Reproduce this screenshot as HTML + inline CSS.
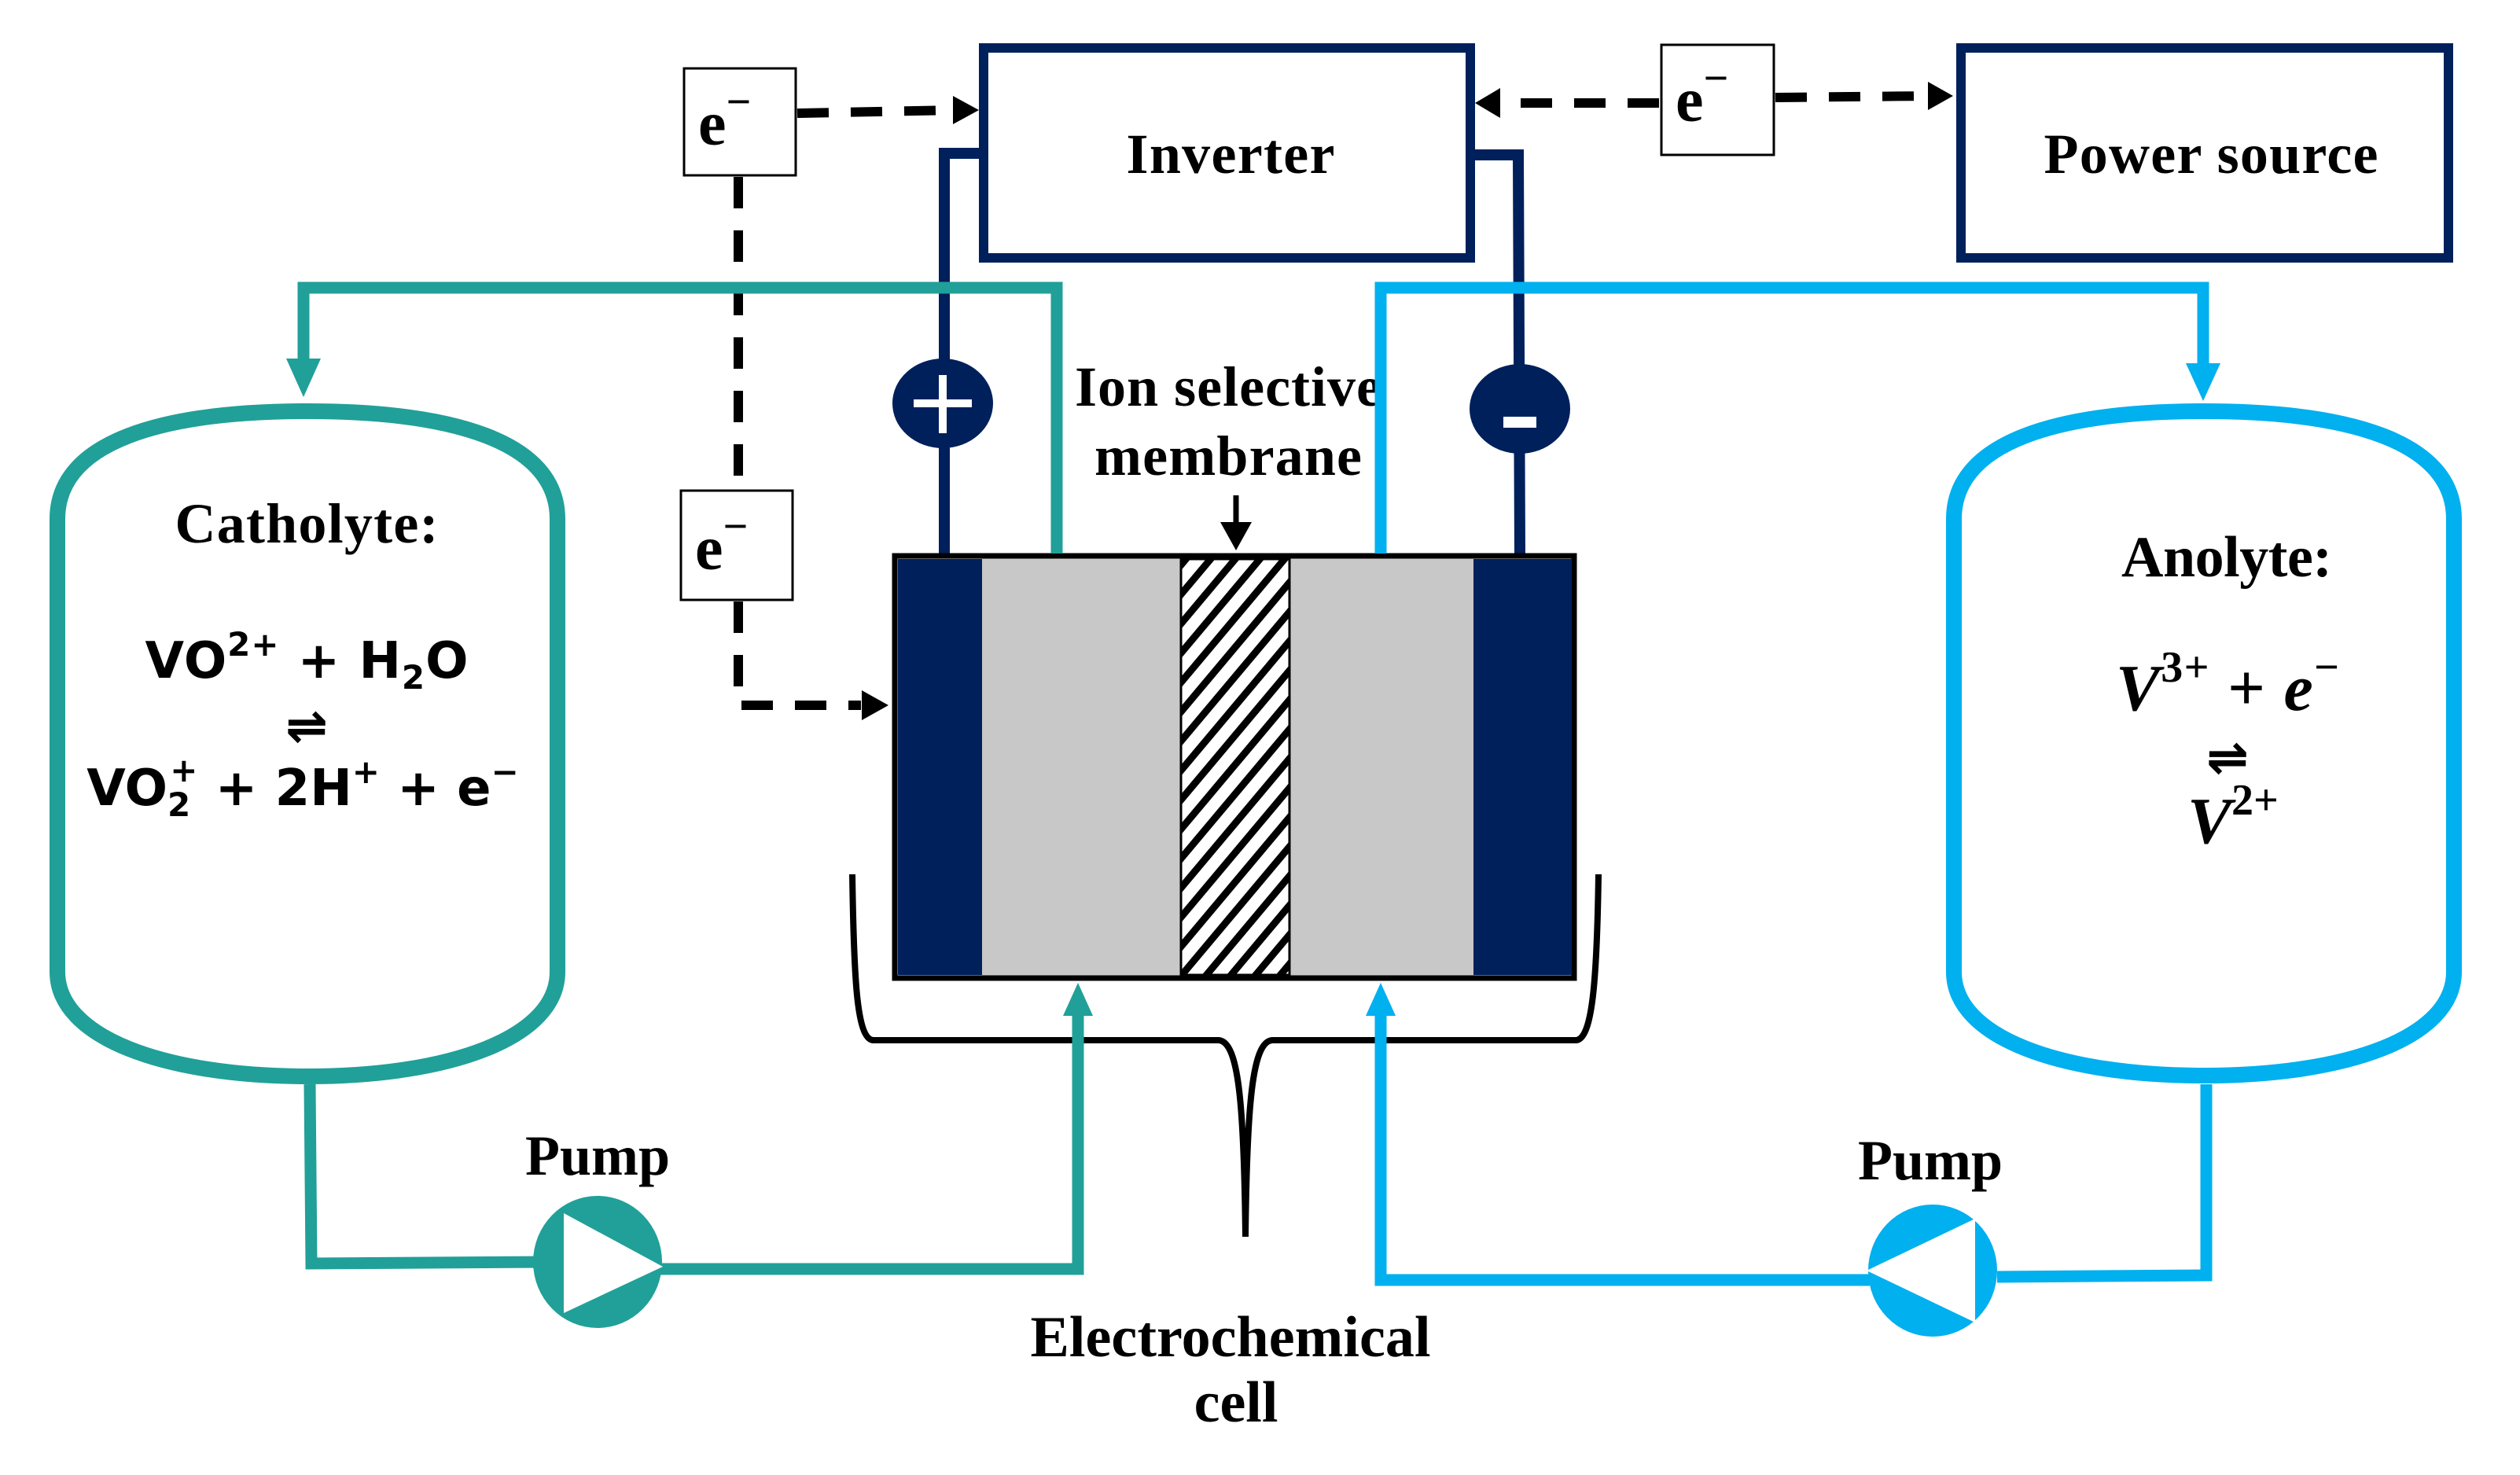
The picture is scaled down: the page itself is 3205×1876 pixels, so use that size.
<!DOCTYPE html>
<html><head><meta charset="utf-8"><style>
html,body{margin:0;padding:0;background:#fff}
svg{display:block}
.t{font-family:"Liberation Serif",serif;font-weight:bold;fill:#000}
.m{font-family:"DejaVu Sans","Liberation Sans",sans-serif;font-weight:bold;fill:#000}
.mi{font-family:"Liberation Serif",serif;font-weight:bold;font-style:italic;fill:#000}
</style></head><body>
<svg width="3205" height="1876" viewBox="0 0 3205 1876" xmlns="http://www.w3.org/2000/svg">
<defs>
<pattern id="h" patternUnits="userSpaceOnUse" width="24" height="24" patternTransform="rotate(40)">
<rect width="24" height="24" fill="#fff"/><rect width="9" height="24" fill="#000"/>
</pattern>
</defs>

<rect x="1251" y="61" width="619" height="267" fill="#fff" stroke="#00205b" stroke-width="12"/>
<text class="t" x="1565" y="220" font-size="72" text-anchor="middle" textLength="265">Inverter</text>
<rect x="2494" y="61" width="620" height="267" fill="#fff" stroke="#00205b" stroke-width="12"/>
<text class="t" x="2812" y="220" font-size="72" text-anchor="middle" textLength="425">Power source</text>

<rect x="870" y="87" width="142" height="136" fill="#fff" stroke="#000" stroke-width="3"/>
<text class="t" x="888" y="184" font-size="80">e<tspan font-size="56" dy="-36">−</tspan></text>
<rect x="866" y="624" width="142" height="139" fill="#fff" stroke="#000" stroke-width="3"/>
<text class="t" x="884" y="724" font-size="80">e<tspan font-size="56" dy="-36">−</tspan></text>
<rect x="2113" y="57" width="143" height="140" fill="#fff" stroke="#000" stroke-width="3"/>
<text class="t" x="2131" y="154" font-size="80">e<tspan font-size="56" dy="-36">−</tspan></text>

<g stroke="#000" stroke-width="12" fill="none" stroke-dasharray="40 28">
<line x1="1014" y1="144" x2="1215" y2="140"/>
<line x1="939" y1="225" x2="939" y2="622"/>
<polyline points="939,765 939,897 1095,897"/>
<line x1="2110" y1="131" x2="1905" y2="131"/>
<line x1="2258" y1="124" x2="2455" y2="122"/>
</g>
<polygon points="1245,140 1212,122 1212,158" fill="#000"/>
<polygon points="1130,897 1096,878 1096,916" fill="#000"/>
<polygon points="1876,131 1908,112 1908,150" fill="#000"/>
<polygon points="2484,122 2452,104 2452,140" fill="#000"/>

<g stroke="#00205b" stroke-width="14" fill="none">
<polyline points="1246,195 1201,195 1201,704"/>
<polyline points="1872,197 1931,197 1933,704"/>
</g>
<ellipse cx="1199" cy="513" rx="64" ry="57" fill="#00205b"/>
<rect x="1162" y="508" width="74" height="10" fill="#fff"/>
<rect x="1194" y="477" width="10" height="74" fill="#fff"/>
<ellipse cx="1933" cy="520" rx="64" ry="57" fill="#00205b"/>
<rect x="1912" y="530" width="42" height="14" fill="#fff"/>

<rect x="1138" y="707" width="864" height="537" fill="#c8c8c8" stroke="#000" stroke-width="7"/>
<rect x="1142" y="711" width="107" height="529" fill="#00205b"/>
<rect x="1874" y="711" width="125" height="529" fill="#00205b"/>
<rect x="1502" y="711" width="138" height="529" fill="url(#h)" stroke="#000" stroke-width="3"/>

<text class="t" x="1562" y="516" font-size="72" text-anchor="middle" textLength="390">Ion selective</text>
<text class="t" x="1562" y="604" font-size="72" text-anchor="middle" textLength="340">membrane</text>
<line x1="1572" y1="630" x2="1572" y2="670" stroke="#000" stroke-width="7"/>
<polygon points="1572,700 1552,664 1592,664" fill="#000"/>

<path d="M1084,1112 C1086,1250 1090,1320 1110,1323 L1550,1323 C1575,1325 1582,1400 1584,1573 C1586,1400 1593,1325 1618,1323 L2005,1323 C2025,1320 2031,1250 2033,1112" fill="none" stroke="#000" stroke-width="8"/>
<text class="t" x="1565" y="1725" font-size="74" text-anchor="middle" textLength="509">Electrochemical</text>
<text class="t" x="1572" y="1808" font-size="74" text-anchor="middle">cell</text>

<g stroke="#20a098" fill="none" stroke-width="15">
<polyline points="386,480 386,366 1344,366 1344,704"/>
<polyline points="394,1379 396,1607 700,1605"/>
<polyline points="820,1614 1371,1614 1371,1290"/>
</g>
<polygon points="386,505 364,456 408,456" fill="#20a098"/>
<polygon points="1371,1250 1352,1292 1390,1292" fill="#20a098"/>
<path d="M73,660 C73,560 210,523 391,523 C572,523 709,560 709,660 L709,1236 C709,1320 572,1369 391,1369 C210,1369 73,1320 73,1236 Z" fill="none" stroke="#20a098" stroke-width="20"/>
<ellipse cx="760" cy="1605" rx="82" ry="84" fill="#20a098"/>
<polygon points="717,1543 717,1670 843,1611" fill="#fff"/>
<text class="t" x="760" y="1494" font-size="72" text-anchor="middle">Pump</text>

<text class="t" x="390" y="690" font-size="72" text-anchor="middle" textLength="335">Catholyte:</text>
<text class="m" x="390" y="862" font-size="64" text-anchor="middle" textLength="411">VO<tspan font-size="42" dy="-28">2+</tspan><tspan dy="28"> + H</tspan><tspan font-size="42" dy="14">2</tspan><tspan dy="-14">O</tspan></text>
<text class="m" x="390" y="945" font-size="64" text-anchor="middle">⇌</text>
<text class="m" x="385" y="1024" font-size="64" text-anchor="middle">VO<tspan font-size="42" dy="14">2</tspan><tspan font-size="42" dx="-26" dy="-44">+</tspan><tspan dy="30"> + 2H</tspan><tspan font-size="42" dy="-28">+</tspan><tspan dy="28"> + e</tspan><tspan font-size="42" dy="-28">−</tspan></text>

<g stroke="#00b0ef" fill="none" stroke-width="15">
<polyline points="1756,704 1756,366 2802,366 2802,480"/>
<polyline points="2806,1379 2806,1622 2540,1624"/>
<polyline points="2378,1628 1756,1628 1756,1290"/>
</g>
<polygon points="2802,510 2780,462 2824,462" fill="#00b0ef"/>
<polygon points="1756,1250 1737,1292 1775,1292" fill="#00b0ef"/>
<path d="M2485,660 C2485,560 2622,523 2803,523 C2984,523 3121,560 3121,660 L3121,1236 C3121,1320 2984,1368 2803,1368 C2622,1368 2485,1320 2485,1236 Z" fill="none" stroke="#00b0ef" stroke-width="20"/>
<ellipse cx="2458" cy="1616" rx="82" ry="84" fill="#00b0ef"/>
<polygon points="2512,1550 2512,1682 2374,1616" fill="#fff"/>
<text class="t" x="2455" y="1500" font-size="72" text-anchor="middle">Pump</text>

<text class="t" x="2832" y="733" font-size="74" text-anchor="middle" textLength="268">Anolyte:</text>
<text class="mi" x="2833" y="903" font-size="84" text-anchor="middle" textLength="284">V<tspan font-style="normal" font-size="56" dy="-36">3+</tspan><tspan font-style="normal" dy="36"> + </tspan>e<tspan font-style="normal" font-size="56" dy="-36">−</tspan></text>
<text class="m" x="2833" y="985" font-size="64" text-anchor="middle">⇌</text>
<text class="mi" x="2840" y="1072" font-size="84" text-anchor="middle">V<tspan font-style="normal" font-size="56" dy="-36">2+</tspan></text>
</svg>
</body></html>
